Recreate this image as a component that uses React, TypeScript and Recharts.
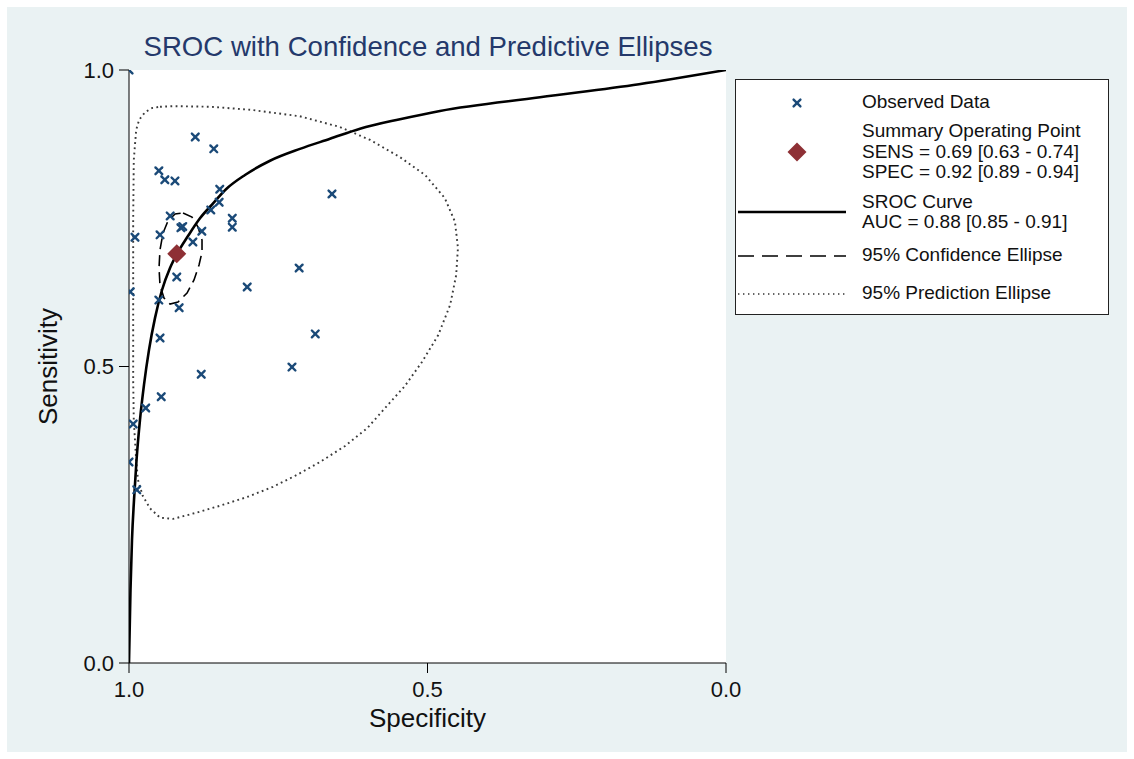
import React from "react";
import { ComposedChart, Line, Scatter, XAxis, YAxis, ReferenceArea } from "recharts";

// observed study points (specificity, sensitivity)
const obsSpec = [
  1.0, 0.889, 0.858, 0.95, 0.94, 0.923, 0.848, 0.849, 0.863, 0.931, 0.827, 0.827,
  0.913, 0.91, 0.878, 0.948, 0.99, 0.893, 0.92, 0.998, 0.95, 0.916, 0.802, 0.948,
  0.879, 0.946, 0.972, 0.993, 1.0, 0.987, 0.66, 0.715, 0.688, 0.727,
];
const obsSens = [
  1.0, 0.887, 0.867, 0.83, 0.815, 0.813, 0.799, 0.777, 0.764, 0.754, 0.75, 0.735,
  0.734, 0.736, 0.728, 0.722, 0.718, 0.71, 0.651, 0.626, 0.612, 0.599, 0.634, 0.548,
  0.487, 0.449, 0.43, 0.403, 0.339, 0.292, 0.791, 0.666, 0.555, 0.499,
];

// summary operating point
const summarySpec = 0.92;
const summarySens = 0.69;

// SROC curve
const srocSpec = [
  1.0, 0.9975, 0.995, 0.9916, 0.9874, 0.9816, 0.9749, 0.9665, 0.9564, 0.9447, 0.9313,
  0.9196, 0.9012, 0.8811, 0.861, 0.8375, 0.8057, 0.7638, 0.7136, 0.6633, 0.6131,
  0.5461, 0.4791, 0.3116, 0.1457, 0.0,
];
const srocSens = [
  0.0, 0.123, 0.207, 0.275, 0.342, 0.41, 0.469, 0.528, 0.582, 0.629, 0.666,
  0.69, 0.72, 0.75, 0.773, 0.799, 0.823, 0.847, 0.867, 0.884, 0.901,
  0.917, 0.931, 0.954, 0.976, 1.0,
];

// 95% confidence ellipse outline
const confSpec = [
  0.9095, 0.8945, 0.8844, 0.8777, 0.8777, 0.8827, 0.8911, 0.9028, 0.9179, 0.9313,
  0.9414, 0.9481, 0.9497, 0.9481, 0.943, 0.9347, 0.9229, 0.9095,
];
const confSens = [
  0.7589, 0.7521, 0.7352, 0.7133, 0.6931, 0.6712, 0.6459, 0.6239, 0.6088, 0.6054,
  0.6155, 0.6374, 0.6661, 0.6965, 0.7251, 0.7454, 0.7572, 0.7589,
];

// 95% prediction ellipse outline
const predSpec = [
  0.948, 0.926, 0.864, 0.797, 0.714, 0.647, 0.596, 0.546, 0.504, 0.471, 0.454, 0.449,
  0.452, 0.462, 0.482, 0.509, 0.538, 0.571, 0.601, 0.638, 0.68, 0.719, 0.759, 0.802,
  0.848, 0.889, 0.926, 0.948, 0.965, 0.977, 0.985, 0.988, 0.992, 0.993, 0.993, 0.993,
  0.992, 0.988, 0.983, 0.973, 0.961, 0.948,
];
const predSens = [
  0.938, 0.939, 0.938, 0.933, 0.922, 0.904, 0.882, 0.853, 0.823, 0.784, 0.744, 0.7,
  0.654, 0.604, 0.553, 0.508, 0.467, 0.43, 0.396, 0.366, 0.339, 0.317, 0.297, 0.28,
  0.265, 0.253, 0.243, 0.245, 0.261, 0.282, 0.309, 0.342, 0.41, 0.477, 0.612, 0.747,
  0.848, 0.899, 0.916, 0.929, 0.936, 0.938,
];

const axisTicks = [0, 0.5, 1];

const pairs = (xs: number[], ys: number[]) => xs.map((spec, i) => ({ spec, sens: ys[i] }));

const observed = pairs(obsSpec, obsSens);
const summary = [{ spec: summarySpec, sens: summarySens }];
const sroc = pairs(srocSpec, srocSens);
const confEllipse = pairs(confSpec, confSens);
const predEllipse = pairs(predSpec, predSens);

const BG = "#eaf2f3";
const NAVY = "#1b4a78";
const MAROON = "#8e3035";
const FONT = "'Liberation Sans', Arial, sans-serif";

const Cross = (props: any) => {
  const { cx, cy } = props;
  const r = 3.4;
  return (
    <g stroke={NAVY} strokeWidth={2.4} strokeLinecap="round">
      <line x1={cx - r} y1={cy - r} x2={cx + r} y2={cy + r} />
      <line x1={cx - r} y1={cy + r} x2={cx + r} y2={cy - r} />
    </g>
  );
};

const Diamond = (props: any) => {
  const { cx, cy } = props;
  const r = 9.5;
  return <polygon points={`${cx},${cy - r} ${cx + r},${cy} ${cx},${cy + r} ${cx - r},${cy}`} fill={MAROON} />;
};

const LegendBox = () => (
  <div
    style={{
      position: "absolute",
      left: 728,
      top: 72,
      width: 372,
      height: 234,
      background: "#fff",
      border: "1px solid #222",
    }}
  >
    <svg width={372} height={234} style={{ fontFamily: FONT, fontSize: 19, fill: "#111" }}>
      <Cross cx={61} cy={23} />
      <text x={126} y={23} dominantBaseline="middle">Observed Data</text>
      <Diamond cx={61} cy={72} />
      <text x={126} y={52} dominantBaseline="middle">Summary Operating Point</text>
      <text x={126} y={72.5} dominantBaseline="middle">SENS = 0.69 [0.63 - 0.74]</text>
      <text x={126} y={93} dominantBaseline="middle">SPEC = 0.92 [0.89 - 0.94]</text>
      <line x1={2} x2={110} y1={132} y2={132} stroke="#000" strokeWidth={2.5} />
      <text x={126} y={122.5} dominantBaseline="middle">SROC Curve</text>
      <text x={126} y={143} dominantBaseline="middle">AUC = 0.88 [0.85 - 0.91]</text>
      <line x1={2} x2={110} y1={176} y2={176} stroke="#000" strokeWidth={1.5} strokeDasharray="16 8" />
      <text x={126} y={176} dominantBaseline="middle">95% Confidence Ellipse</text>
      <line x1={2} x2={110} y1={214} y2={214} stroke="#333" strokeWidth={1.4} strokeDasharray="1.4 3.6" />
      <text x={126} y={214} dominantBaseline="middle">95% Prediction Ellipse</text>
    </svg>
  </div>
);

export default function App() {
  return (
    <div
      style={{
        position: "absolute",
        left: 7,
        top: 7,
        width: 1120,
        height: 745,
        background: BG,
        fontFamily: FONT,
      }}
    >
      <svg width={1120} height={60} style={{ position: "absolute", left: 0, top: 0 }}>
        <text
          x={421}
          y={42}
          textAnchor="middle"
          dominantBaseline="middle"
          fill="#24396b"
          fontSize={27.6}
          fontFamily={FONT}
        >
          SROC with Confidence and Predictive Ellipses
        </text>
      </svg>
      <ComposedChart width={1120} height={745} margin={{ top: 63, right: 401, bottom: 19, left: 0 }}>
        <XAxis
          type="number"
          dataKey="spec"
          domain={[0, 1]}
          reversed
          ticks={axisTicks}
          tickFormatter={(v: number) => v.toFixed(1)}
          tickSize={10}
          tickMargin={8}
          height={70}
          stroke="#000"
          tick={{ fill: "#111", fontSize: 22, fontFamily: FONT }}
          label={{ value: "Specificity", position: "insideBottom", offset: 6, fill: "#111", fontSize: 26, fontFamily: FONT }}
          allowDataOverflow
        />
        <YAxis
          type="number"
          dataKey="sens"
          domain={[0, 1]}
          ticks={axisTicks}
          tickFormatter={(v: number) => v.toFixed(1)}
          tickSize={10}
          tickMargin={5}
          width={122}
          stroke="#000"
          tick={{ fill: "#111", fontSize: 22, fontFamily: FONT }}
          label={{
            value: "Sensitivity",
            angle: -90,
            position: "insideLeft",
            offset: 41,
            fill: "#111",
            fontSize: 26,
            fontFamily: FONT,
            style: { textAnchor: "middle" },
          }}
          allowDataOverflow
        />
        <ReferenceArea x1={0} x2={1} y1={0} y2={1} fill="#fff" fillOpacity={1} stroke="none" />
        <Line
          data={predEllipse}
          dataKey="sens"
          type="linear"
          stroke="#3a3a3a"
          strokeWidth={1.9}
          strokeDasharray="1.8 3.4"
          dot={false}
          activeDot={false}
          isAnimationActive={false}
        />
        <Line
          data={sroc}
          dataKey="sens"
          type="monotone"
          stroke="#000"
          strokeWidth={2.6}
          dot={false}
          activeDot={false}
          isAnimationActive={false}
        />
        <Line
          data={confEllipse}
          dataKey="sens"
          type="linear"
          stroke="#000"
          strokeWidth={1.6}
          strokeDasharray="11 6"
          dot={false}
          activeDot={false}
          isAnimationActive={false}
        />
        <Scatter data={observed} dataKey="sens" shape={<Cross />} isAnimationActive={false} />
        <Scatter data={summary} dataKey="sens" shape={<Diamond />} isAnimationActive={false} />
      </ComposedChart>
      <LegendBox />
    </div>
  );
}
